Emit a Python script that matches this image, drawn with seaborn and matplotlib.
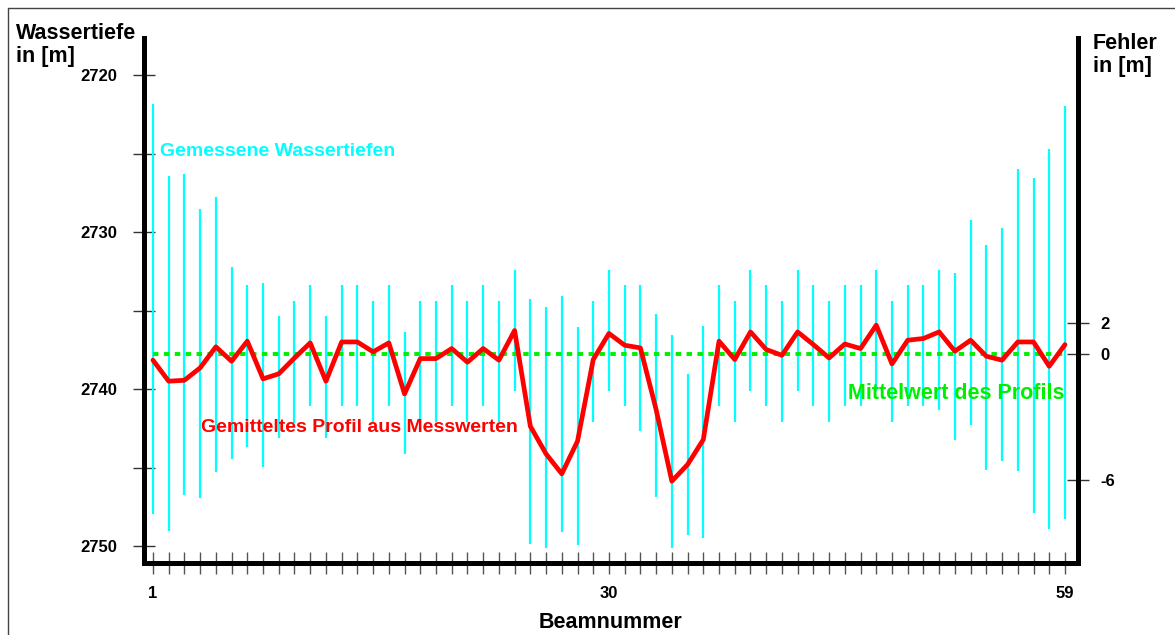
import numpy as np
import matplotlib
matplotlib.use('Agg')
import matplotlib.pyplot as plt
from matplotlib.lines import Line2D
import seaborn as sns

# Beam numbers along the profile
beams = np.arange(1, 60)

# Averaged profile (red line), water depth in m
profile = [2738.16, 2739.50, 2739.44, 2738.65, 2737.31, 2738.23, 2736.95, 2739.35, 2739.03, 2738.02,
           2737.06, 2739.50, 2737.00, 2737.00, 2737.63, 2737.06, 2740.31, 2738.06, 2738.06, 2737.42,
           2738.29, 2737.42, 2738.16, 2736.27, 2742.37, 2744.13, 2745.40, 2743.32, 2738.12, 2736.46,
           2737.21, 2737.38, 2741.31, 2745.87, 2744.81, 2743.22, 2736.95, 2738.12, 2736.36, 2737.48,
           2737.85, 2736.36, 2737.17, 2738.02, 2737.13, 2737.42, 2735.93, 2738.40, 2736.89, 2736.78,
           2736.36, 2737.59, 2736.89, 2737.91, 2738.16, 2737.00, 2737.00, 2738.55, 2737.17]

# Measured depths per beam: shallowest and deepest value (cyan bars)
depth_min = [2721.84, 2726.40, 2726.30, 2728.55, 2727.78, 2732.22, 2733.39, 2733.24, 2735.36, 2734.38,
             2733.39, 2735.36, 2733.39, 2733.39, 2734.38, 2733.39, 2736.38, 2734.38, 2734.38, 2733.39,
             2734.38, 2733.39, 2734.38, 2732.39, 2734.28, 2734.75, 2734.07, 2736.04, 2734.38, 2732.39,
             2733.39, 2733.39, 2735.25, 2736.53, 2739.03, 2735.96, 2733.39, 2734.38, 2732.39, 2733.39,
             2734.38, 2732.39, 2733.39, 2734.38, 2733.39, 2733.39, 2732.39, 2734.38, 2733.39, 2733.39,
             2732.39, 2732.60, 2729.25, 2730.82, 2729.76, 2726.00, 2726.55, 2724.72, 2721.94]
depth_max = [2747.95, 2749.01, 2746.78, 2746.91, 2745.28, 2744.45, 2743.68, 2744.96, 2743.11, 2742.15,
             2741.09, 2743.11, 2741.09, 2741.09, 2742.11, 2741.09, 2744.11, 2742.11, 2742.11, 2741.09,
             2742.11, 2741.09, 2742.11, 2740.10, 2749.90, 2750.12, 2749.10, 2749.95, 2742.11, 2740.10,
             2741.09, 2742.69, 2746.85, 2750.12, 2749.31, 2749.48, 2741.09, 2742.11, 2740.10, 2741.09,
             2742.11, 2740.10, 2741.09, 2742.11, 2741.09, 2741.09, 2740.10, 2742.11, 2741.09, 2741.09,
             2741.31, 2743.22, 2742.30, 2745.15, 2744.58, 2745.23, 2747.89, 2748.91, 2748.25]

# Mean of the profile (green dotted line)
mean_depth = 2737.77

# Axis ticks
depth_major = [2720, 2730, 2740, 2750]
depth_minor = [2725, 2735, 2745]
labeled_beams = [1, 30, 59]
error_ticks = [2, 0, -8]
error_labels = ['2', '0', '-6']

sns.set_style('white')
plt.rcParams['font.family'] = ['Liberation Sans', 'DejaVu Sans']
plt.rcParams['font.weight'] = 'bold'
plt.rcParams['text.color'] = 'black'
plt.rcParams['axes.labelcolor'] = 'black'
plt.rcParams['xtick.color'] = 'black'
plt.rcParams['ytick.color'] = 'black'

fig = plt.figure(figsize=(11.75, 6.35), dpi=100)
ax = fig.add_axes([144 / 1175, 1 - 563 / 635, 934 / 1175, 525 / 635])

# measured depth ranges
ax.vlines(beams, depth_min, depth_max, color='#00FFFF', linewidth=1.6, zorder=1)

# mean line
ax.hlines(mean_depth, beams.min(), beams.max(), color='#00EE00', linewidth=2.8,
          linestyles=[(0, (1.4, 1.4))], zorder=2)

# averaged profile
sns.lineplot(x=beams, y=profile, color='#FF0000', linewidth=3.4, ax=ax, zorder=3)

ax.set_xlim(0.43, 59.83)
ax.set_ylim(2751.08, 2717.64)

ax.set_yticks(depth_major)
ax.set_yticks(depth_minor, minor=True)
ax.set_yticklabels([str(v) for v in depth_major])
ax.set_xticks(beams)
ax.set_xticklabels([str(b) if b in labeled_beams else '' for b in beams])

ax.tick_params(axis='y', which='both', direction='inout', length=16.5, width=1,
               color='#333333', pad=11, labelsize=12, left=True)
ax.tick_params(axis='x', which='both', direction='inout', length=16.5, width=1,
               color='#555555', pad=8, labelsize=12, bottom=True)

for side in ['left', 'bottom']:
    ax.spines[side].set_linewidth(3.6)
    ax.spines[side].set_color('black')
ax.spines['top'].set_visible(False)
ax.spines['right'].set_visible(False)

ax.set_xlabel('Beamnummer', fontsize=15.5, fontweight='bold', labelpad=8)
ax.set_ylabel('')

# right axis: deviation from the mean
sec = ax.secondary_yaxis('right', functions=(lambda d: mean_depth - d, lambda f: mean_depth - f))
sec.set_yticks(error_ticks)
sec.set_yticklabels(error_labels)
sec.tick_params(axis='y', direction='inout', length=16.5, width=1, color='#333333',
                pad=8, labelsize=12)
sec.spines['right'].set_linewidth(3.6)
sec.spines['right'].set_color('black')

# annotations
ax.text(1.45, 2724.84, 'Gemessene Wassertiefen', color='#00FFFF', fontsize=14,
        fontweight='bold', ha='left', va='center')
ax.text(4.05, 2742.42, 'Gemitteltes Profil aus Messwerten', color='#FF0000', fontsize=14,
        fontweight='bold', ha='left', va='center')
ax.text(58.95, 2740.3, 'Mittelwert des Profils', color='#00EE00', fontsize=15.5,
        fontweight='bold', ha='right', va='center')

fig.text(16 / 1175, 1 - 23 / 635, 'Wassertiefe\nin [m]', fontsize=15.5, fontweight='bold',
         ha='left', va='top', linespacing=1.1)
fig.text(1093 / 1175, 1 - 33 / 635, 'Fehler\nin [m]', fontsize=15.5, fontweight='bold',
         ha='left', va='top', linespacing=1.1)

# frame around the picture
fig.add_artist(Line2D([8 / 1175, 8 / 1175], [0, 1 - 8 / 635], transform=fig.transFigure,
                      color='#444444', linewidth=1))
fig.add_artist(Line2D([8 / 1175, 1], [1 - 8 / 635, 1 - 8 / 635], transform=fig.transFigure,
                      color='#444444', linewidth=1))

fig.savefig('out.png', dpi=100)
